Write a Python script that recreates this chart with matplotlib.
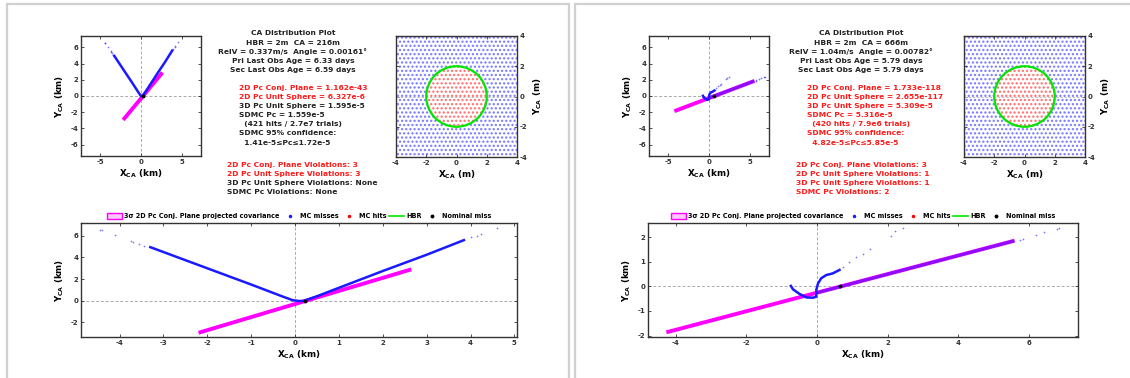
"""
plot.py
Two CA distribution plot panels side by side (km overview, m zoom, wide km view).
"""

import matplotlib
matplotlib.use("Agg")
import matplotlib.pyplot as plt
from matplotlib.patches import Rectangle, Circle, Patch
from matplotlib.lines import Line2D

# =========================
# DATA
# =========================
HBR_M = 2.0
M_LIM = 4.0

# left case
cov_a_x = [-2.2, 2.65]
cov_a_y = [-2.95, 2.9]
miss_a_x = [-3.3, -3.0, -2.0, -1.0, -0.3, -0.05, 0.1, 0.2, 0.5, 1.0, 2.0, 3.0, 3.85]
miss_a_y = [4.95, 4.5, 3.0, 1.5, 0.42, 0.05, -0.02, 0.0, 0.42, 1.2, 2.75, 4.25, 5.6]
dots_a_x = [-4.45, -4.4, -4.1, -3.75, -3.7, -3.55, -3.45, 4.0, 4.15, 4.25, 4.6]
dots_a_y = [6.55, 6.5, 6.05, 5.5, 5.45, 5.25, 5.1, 5.85, 6.0, 6.15, 6.7]
nom_a = (0.216, 0.0)

# right case
cov_b_x = [-4.27, 5.6]
cov_b_y = [-1.87, 1.86]
overlap_b_x = [-0.05, 5.6]
overlap_b_y = [-0.28, 1.86]
miss_b_x = [-0.74, -0.68, -0.49, -0.30, -0.11, -0.02, -0.02, 0.03, 0.12, 0.26, 0.45, 0.64]
miss_b_y = [0.02, -0.12, -0.31, -0.45, -0.46, -0.42, -0.15, 0.12, 0.33, 0.46, 0.53, 0.67]
dots_b_x = [0.75, 0.9, 1.1, 1.3, 1.5, 2.1, 2.2, 2.45, 5.75, 5.85, 6.2, 6.45, 6.8, 6.85]
dots_b_y = [0.8, 1.0, 1.18, 1.32, 1.52, 2.05, 2.25, 2.37, 1.9, 1.93, 2.1, 2.2, 2.33, 2.37]
nom_b = (0.666, 0.0)

header_a = ["CA Distribution Plot", "HBR = 2m  CA = 216m",
            "RelV = 0.337m/s  Angle = 0.00161°",
            "Pri Last Obs Age = 6.33 days", "Sec Last Obs Age = 6.59 days"]
pc_a = ["2D Pc Conj. Plane = 1.162e-43", "2D Pc Unit Sphere = 6.327e-6",
        "3D Pc Unit Sphere = 1.595e-5", "SDMC Pc = 1.559e-5",
        "  (421 hits / 2.7e7 trials)", "SDMC 95% confidence:",
        "  1.41e-5≤Pc≤1.72e-5"]
pc_a_red = [True, True, False, False, False, False, False]
viol_a = ["2D Pc Conj. Plane Violations: 3", "2D Pc Unit Sphere Violations: 3",
          "3D Pc Unit Sphere Violations: None", "SDMC Pc Violations: None"]
viol_a_red = [True, True, False, False]

header_b = ["CA Distribution Plot", "HBR = 2m  CA = 666m",
            "RelV = 1.04m/s  Angle = 0.00782°",
            "Pri Last Obs Age = 5.79 days", "Sec Last Obs Age = 5.79 days"]
pc_b = ["2D Pc Conj. Plane = 1.733e-118", "2D Pc Unit Sphere = 2.655e-117",
        "3D Pc Unit Sphere = 5.309e-5", "SDMC Pc = 5.316e-5",
        "  (420 hits / 7.9e6 trials)", "SDMC 95% confidence:",
        "  4.82e-5≤Pc≤5.85e-5"]
pc_b_red = [True] * 7
viol_b = ["2D Pc Conj. Plane Violations: 3", "2D Pc Unit Sphere Violations: 1",
          "3D Pc Unit Sphere Violations: 1", "SDMC Pc Violations: 2"]
viol_b_red = [True] * 4

# =========================
# STYLE
# =========================
W, H = 1130, 378
plt.rcParams["font.family"] = ["DejaVu Sans"]
plt.rcParams["font.weight"] = "bold"
plt.rcParams["axes.unicode_minus"] = False
plt.rcParams["hatch.linewidth"] = 1.1
TXT = 5.4
TICK = 5.0
LAB = 6.3
BLUE = "#1a1aff"
MAG = "#ff00ff"
AX_EDGE = "#333333"

fig = plt.figure(figsize=(W / 100, H / 100), dpi=100)


def px_axes(x0, y0, x1, y1):
    return fig.add_axes([x0 / W, 1 - y1 / H, (x1 - x0) / W, (y1 - y0) / H])


def style_axes(ax):
    for s in ax.spines.values():
        s.set_color(AX_EDGE)
        s.set_linewidth(1.0)
    ax.tick_params(direction="in", top=True, right=True, labelsize=TICK,
                   length=2.5, width=0.6, colors=AX_EDGE, pad=2)
    for lbl in ax.get_xticklabels() + ax.get_yticklabels():
        lbl.set_fontweight("bold")


def km_plot(ax, cov_x, cov_y, lines, dots_x, dots_y, nom, overlap=None):
    ax.axhline(0, color="#aaaaaa", lw=0.7, ls=(0, (3, 2)), zorder=0)
    ax.axvline(0, color="#aaaaaa", lw=0.7, ls=(0, (3, 2)), zorder=0)
    ax.plot(cov_x, cov_y, color=MAG, lw=2.8, solid_capstyle="butt", zorder=2)
    if overlap is not None:
        ax.plot(overlap[0], overlap[1], color=BLUE, lw=2.2, alpha=0.5,
                solid_capstyle="butt", zorder=3)
    for lx, ly in lines:
        ax.plot(lx, ly, color=BLUE, lw=1.8, zorder=3)
    ax.scatter(dots_x, dots_y, s=1.5, color=BLUE, alpha=0.6, lw=0, zorder=3)
    ax.plot([nom[0]], [nom[1]], "o", color="black", ms=1.8, zorder=4)


def m_plot(ax):
    ax.add_patch(Rectangle((-M_LIM, -M_LIM), 2 * M_LIM, 2 * M_LIM, facecolor="none",
                           edgecolor=BLUE, hatch="....", lw=0, alpha=0.55, zorder=1))
    ax.add_patch(Circle((0, 0), HBR_M, facecolor="white", edgecolor="none", zorder=2))
    ax.add_patch(Circle((0, 0), HBR_M, facecolor="none", edgecolor="#ff1a1a",
                        hatch="....", lw=0, alpha=0.6, zorder=3))
    ax.add_patch(Circle((0, 0), HBR_M, facecolor="none", edgecolor="#00e600",
                        lw=1.6, zorder=4))
    ax.axhline(0, color="#bbbbbb", lw=0.6, ls=(0, (3, 2)), zorder=2.5)
    ax.set_xlim(-M_LIM, M_LIM)
    ax.set_ylim(-M_LIM, M_LIM)
    ax.set_xticks([-4, -2, 0, 2, 4])
    ax.set_yticks([-4, -2, 0, 2, 4])
    ax.yaxis.tick_right()
    ax.yaxis.set_label_position("right")
    style_axes(ax)
    ax.tick_params(left=True, labelleft=False, labelright=True)
    ax.set_xlabel(r"$\mathbf{X_{CA}}$ (m)", fontsize=LAB, fontweight="bold", labelpad=2)
    ax.set_ylabel(r"$\mathbf{Y_{CA}}$ (m)", fontsize=LAB, fontweight="bold", labelpad=3)


def text_block(cx, lx, vx, header, pc, pc_red, viol, viol_red):
    ys = [33, 43, 52, 61, 70]
    for y, t in zip(ys, header):
        fig.text(cx / W, 1 - y / H, t, ha="center", va="center", fontsize=TXT,
                 fontweight="bold", color="#222222")
    ys = [88, 97, 106, 115, 124, 133, 143]
    for y, t, r in zip(ys, pc, pc_red):
        fig.text(lx / W, 1 - y / H, t, ha="left", va="center", fontsize=TXT,
                 fontweight="bold", color="#ff1a1a" if r else "#222222")
    ys = [165, 174, 183, 192]
    for y, t, r in zip(ys, viol, viol_red):
        fig.text(vx / W, 1 - y / H, t, ha="left", va="center", fontsize=TXT,
                 fontweight="bold", color="#ff1a1a" if r else "#222222")


def legend_handles():
    return [
        Patch(facecolor="#ffc8ff", edgecolor=MAG, lw=1.0),
        Line2D([], [], ls="none", marker="o", ms=1.5, color=BLUE),
        Line2D([], [], ls="none", marker="o", ms=1.5, color="red"),
        Line2D([], [], color="#00e600", lw=1.2),
        Line2D([], [], ls="none", marker="o", ms=1.8, color="black"),
    ]


LEG_LABELS = ["3σ 2D Pc Conj. Plane projected covariance", "MC misses",
              "MC hits", "HBR", "Nominal miss"]


def panel(x_km, x_m, x_bot, cov_x, cov_y, lines, dots_x, dots_y, nom, overlap,
          bot_xlim, bot_ylim, bot_xticks, bot_yticks, texts, text_x):
    # km overview
    ax1 = px_axes(x_km, 36, x_km + 120, 156)
    km_plot(ax1, cov_x, cov_y, lines, dots_x, dots_y, nom, overlap)
    ax1.set_xlim(-7.4, 7.4)
    ax1.set_ylim(-7.4, 7.4)
    ax1.set_xticks([-5, 0, 5])
    ax1.set_yticks([-6, -4, -2, 0, 2, 4, 6])
    style_axes(ax1)
    ax1.set_xlabel(r"$\mathbf{X_{CA}}$ (km)", fontsize=LAB, fontweight="bold", labelpad=2)
    ax1.set_ylabel(r"$\mathbf{Y_{CA}}$ (km)", fontsize=LAB, fontweight="bold", labelpad=3)

    # m zoom
    ax2 = px_axes(x_m, 36, x_m + 121, 157)
    m_plot(ax2)

    # wide km view
    ax3 = px_axes(x_bot[0], 223, x_bot[1], 337)
    km_plot(ax3, cov_x, cov_y, lines, dots_x, dots_y, nom, overlap)
    ax3.set_xlim(*bot_xlim)
    ax3.set_ylim(*bot_ylim)
    ax3.set_xticks(bot_xticks)
    ax3.set_yticks(bot_yticks)
    style_axes(ax3)
    ax3.set_xlabel(r"$\mathbf{X_{CA}}$ (km)", fontsize=LAB, fontweight="bold", labelpad=2)
    ax3.set_ylabel(r"$\mathbf{Y_{CA}}$ (km)", fontsize=LAB, fontweight="bold", labelpad=3)
    ax3.legend(legend_handles(), LEG_LABELS, loc="lower center", bbox_to_anchor=(0.5, 1.0),
               ncol=5, frameon=False, prop={"size": 4.7, "weight": "bold"},
               handlelength=2.4, handletextpad=0.3, columnspacing=0.4,
               borderaxespad=0.15, handleheight=0.9)

    text_block(*text_x, *texts)


# panel frames
for x0, x1 in [(7, 569), (575, 1145)]:
    fig.add_artist(Rectangle((x0 / W, -0.05), (x1 - x0) / W, 1 - 4 / H + 0.05,
                             transform=fig.transFigure, facecolor="none",
                             edgecolor="#d0d0d0", lw=1.6))

panel(81, 396, (81, 517), cov_a_x, cov_a_y, [(miss_a_x, miss_a_y)], dots_a_x, dots_a_y,
      nom_a, None,
      (-4.88, 5.06), (-3.34, 7.18), [-4, -3, -2, -1, 0, 1, 2, 3, 4, 5], [-2, 0, 2, 4, 6],
      (header_a, pc_a, pc_a_red, viol_a, viol_a_red), (293, 239, 227))

panel(649, 964, (648, 1078), cov_b_x, cov_b_y, [(miss_b_x, miss_b_y)], dots_b_x, dots_b_y,
      nom_b, (overlap_b_x, overlap_b_y),
      (-4.79, 7.40), (-2.06, 2.58), [-4, -2, 0, 2, 4, 6], [-2, -1, 0, 1, 2],
      (header_b, pc_b, pc_b_red, viol_b, viol_b_red), (861, 807, 796))

fig.savefig("out.png", dpi=100)
